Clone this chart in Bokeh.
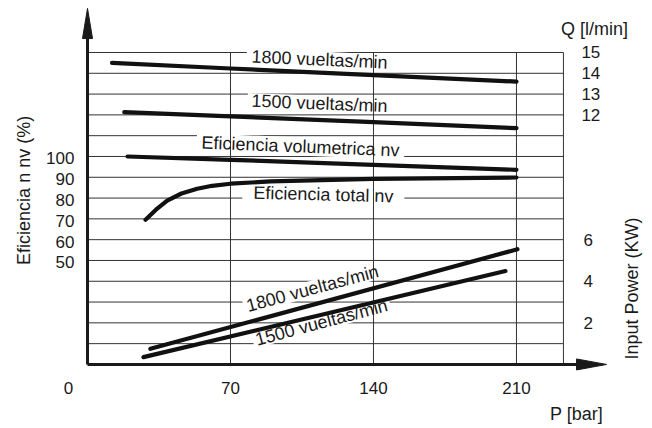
import math
from bokeh.plotting import figure
from bokeh.models import Range1d, ColumnDataSource
from bokeh.core.properties import value
from bokeh.embed import file_html
from bokeh.resources import INLINE

# ---------------- data ----------------
x_ticks = [0, 70, 140, 210]
eff_ticks = [100, 90, 80, 70, 60, 50]
q_ticks = [15, 14, 13, 12]
power_ticks = [6, 4, 2]
grid_levels = list(range(1, 16))      # horizontal grid lines (l/min = kW units)
grid_p = [70, 140, 210, 233]          # vertical grid lines (bar), last = box border

p_q1800 = [12, 70, 140, 210]
q_1800 = [14.5, 14.23, 13.91, 13.6]
p_q1500 = [18, 70, 140, 210]
q_1500 = [12.13, 11.93, 11.65, 11.36]
p_vol = [19.6, 70, 140, 210]
eff_vol = [100.0, 98.4, 96.0, 93.6]
p_tot = [28.4, 33.5, 39, 46, 53.7, 61, 70, 89.6, 140, 210]
eff_tot = [69.6, 74.4, 78.8, 82.2, 84.5, 85.9, 86.9, 88.0, 89.2, 89.9]
p_pw1800 = [30.8, 210.5]
pw_1800 = [0.75, 5.54]
p_pw1500 = [27.4, 204.6]
pw_1500 = [0.35, 4.49]

FONT = value("Liberation Sans")
INK = "#1a1a1a"

p = figure(width=652, height=428, output_backend="svg", toolbar_location=None,
           x_range=Range1d(-42.6, 276.6), y_range=Range1d(-3.08, 17.5),
           x_axis_type=None, y_axis_type=None, min_border=0)
p.extra_y_ranges = {"eff": Range1d(-30.8, 175.0)}
p.outline_line_color = None
p.grid.visible = False
p.background_fill_color = "white"
p.border_fill_color = "white"

P_END = grid_p[-1]
K_TOP = grid_levels[-1]

# horizontal grid lines
p.segment(x0=[0] * len(grid_levels), x1=[P_END] * len(grid_levels),
          y0=grid_levels, y1=grid_levels, line_color="#333333", line_width=1)

# label definitions (position in data units, angle in degrees)
labels = dict(
    text=["1800 vueltas/min", "1500 vueltas/min", "Eficiencia volumetrica nv",
          "Eficiencia total nv", "1800 vueltas/min", "1500 vueltas/min"],
    x=[113.6, 113.6, 104.3, 115.5, 110.1, 114.5],
    y=[14.66, 12.55, 10.48, 8.17, 3.65, 2.02],
    ang=[-2.6, -2.3, -2.3, -1.5, 15.0, 15.0],
    w=[146, 144, 208, 162, 142, 142],
    h=[16, 15, 18, 16, 16, 16],
)
labels["angle"] = [math.radians(a) for a in labels["ang"]]
lsrc = ColumnDataSource(labels)

# white masks behind labels (hide horizontal grid lines)
p.rect(x="x", y="y", width="w", height="h", angle="angle", source=lsrc,
       width_units="screen", height_units="screen",
       fill_color="white", line_color=None)

# vertical grid lines
p.segment(x0=grid_p, x1=grid_p, y0=[0] * len(grid_p), y1=[K_TOP] * len(grid_p),
          line_color="#333333", line_width=1)

# data curves
LW = 4.2
for xs, ys in [(p_q1800, q_1800), (p_q1500, q_1500), (p_pw1800, pw_1800), (p_pw1500, pw_1500)]:
    p.line(xs, ys, line_color="#111111", line_width=LW, line_cap="round", line_join="round")
for xs, ys in [(p_vol, eff_vol), (p_tot, eff_tot)]:
    p.line(xs, ys, y_range_name="eff", line_color="#111111", line_width=LW,
           line_cap="round", line_join="round")

# axes with arrows
AX_LW = 3
y_tip, y_base = 17.12, 15.67
x_tip, x_base = 254.1, 239.4
p.line([0, 0], [0, y_base], line_color=INK, line_width=AX_LW)
p.line([0, x_base], [0, 0], line_color=INK, line_width=AX_LW)
p.patch([0, -2.45, 2.45], [y_tip, y_base, y_base], fill_color=INK, line_color=INK)
p.patch([x_tip, x_base, x_base], [0, 0.265, -0.265], fill_color=INK, line_color=INK)

# curve labels
p.text(x="x", y="y", text="text", angle="angle", source=lsrc,
       text_font=FONT, text_font_size="18px", text_color=INK,
       text_align="center", text_baseline="middle")

# tick labels
TICK = "17px"
p.text(x=x_ticks, y=[-1.11] * len(x_ticks), text=[str(t) for t in x_ticks],
       x_offset=[-19] + [0] * (len(x_ticks) - 1),
       text_font=FONT, text_font_size=TICK, text_color=INK,
       text_align="center", text_baseline="middle")
p.text(x=[-6.4] * len(eff_ticks), y=eff_ticks, y_range_name="eff",
       text=[str(t) for t in eff_ticks], y_offset=2,
       text_font=FONT, text_font_size=TICK, text_color=INK,
       text_align="right", text_baseline="middle")
p.text(x=[241.8] * len(q_ticks), y=q_ticks, text=[str(t) for t in q_ticks],
       text_font=FONT, text_font_size=TICK, text_color=INK,
       text_align="left", text_baseline="middle")
p.text(x=[242.8] * len(power_ticks), y=power_ticks, text=[str(t) for t in power_ticks],
       text_font=FONT, text_font_size=TICK, text_color=INK,
       text_align="left", text_baseline="middle")

# axis titles
p.text(x=[248.2], y=[16.15], text=["Q [l/min]"], text_font=FONT, text_font_size="18px",
       text_color=INK, text_align="center", text_baseline="middle")
p.text(x=[239.4], y=[-2.40], text=["P [bar]"], text_font=FONT, text_font_size="18px",
       text_color=INK, text_align="center", text_baseline="middle")
p.text(x=[-31.3], y=[8.37], text=["Eficiencia n nv (%)"], angle=math.pi / 2,
       text_font=FONT, text_font_size="18px", text_color=INK,
       text_align="center", text_baseline="middle")
p.text(x=[266.8], y=[3.65], text=["Input Power (KW)"], angle=math.pi / 2,
       text_font=FONT, text_font_size="18px", text_color=INK,
       text_align="center", text_baseline="middle")

open("out.html", "w").write(file_html(p, INLINE))
